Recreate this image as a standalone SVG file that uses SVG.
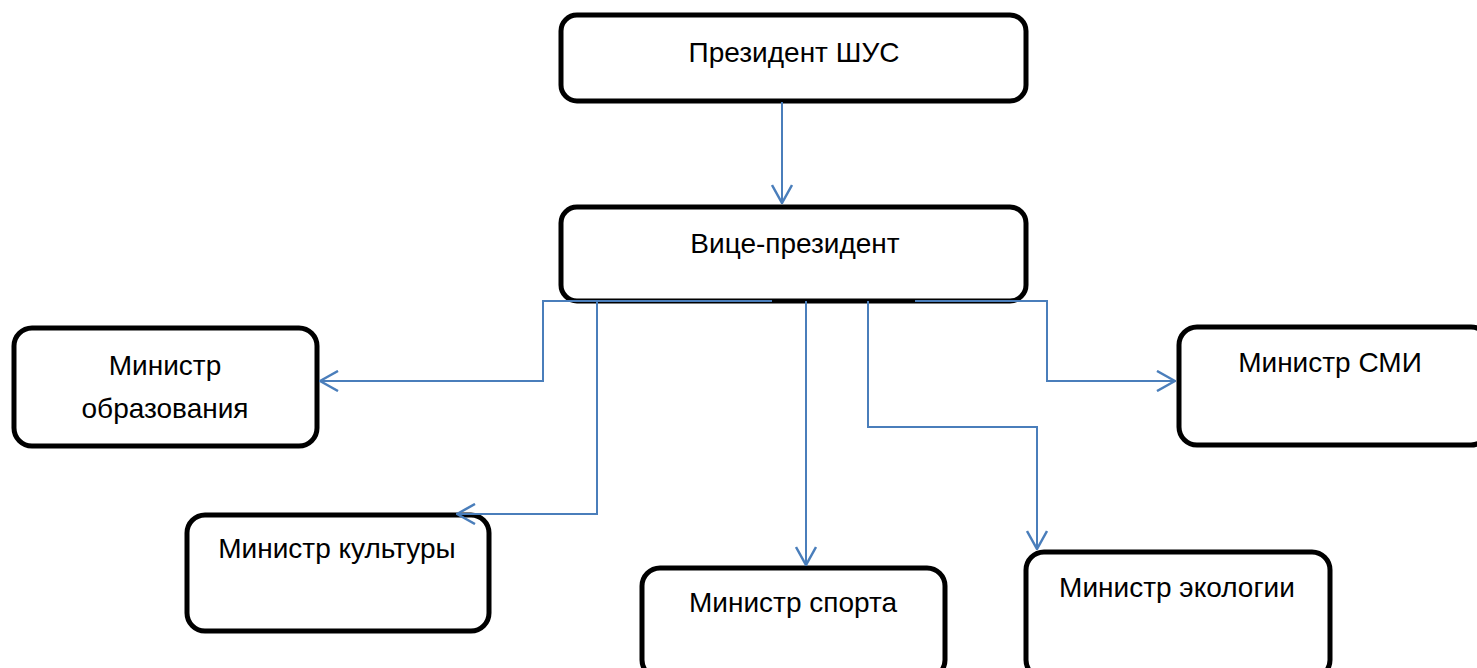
<svg xmlns="http://www.w3.org/2000/svg" width="1477" height="668" viewBox="0 0 1477 668">
<defs>
<style>
.box{fill:#fff;stroke:#000;stroke-width:5}
.lbl{font-family:"Liberation Sans",Arial,sans-serif;font-size:28px;fill:#000;text-anchor:middle}
.con{fill:none;stroke:#4a7ebb;stroke-width:2}
</style>
<marker id="ah" viewBox="0 0 20 22" refX="19" refY="11" markerWidth="20" markerHeight="22" markerUnits="userSpaceOnUse" orient="auto">
<path d="M1,1 L19,11 L1,21" fill="none" stroke="#4a7ebb" stroke-width="2.5"/>
</marker>
</defs>
<rect width="1477" height="668" fill="#fff"/>
<g id="president"><rect class="box" x="561" y="15" width="465" height="86" rx="16"/><text class="lbl" x="794" y="62">Президент ШУС</text></g>
<g id="vice"><rect class="box" x="561" y="207" width="465" height="94" rx="16"/><text class="lbl" x="795" y="253">Вице-президент</text></g>
<g id="education"><rect class="box" x="14" y="328" width="303" height="118" rx="18"/><text class="lbl" x="165" y="375">Министр</text><text class="lbl" x="165" y="418">образования</text></g>
<g id="culture"><rect class="box" x="187" y="515" width="302" height="116" rx="18"/><text class="lbl" x="337" y="558">Министр культуры</text></g>
<g id="sport"><rect class="box" x="642" y="568" width="303" height="110" rx="18"/><text class="lbl" x="793" y="612">Министр спорта</text></g>
<g id="ecology"><rect class="box" x="1026" y="552" width="304" height="126" rx="18"/><text class="lbl" x="1177" y="597">Министр экологии</text></g>
<g id="smi"><rect class="box" x="1179" y="327" width="310" height="118" rx="18"/><text class="lbl" x="1330" y="372">Министр СМИ</text></g>
<g id="connectors">
<path class="con" d="M782,102 V203" marker-end="url(#ah)"/>
<path class="con" d="M772,301 H543 V381 H320" marker-end="url(#ah)"/>
<path class="con" d="M597,301 V514 H457" marker-end="url(#ah)"/>
<path class="con" d="M806,301 V565" marker-end="url(#ah)"/>
<path class="con" d="M868,301 V427 H1037 V549" marker-end="url(#ah)"/>
<path class="con" d="M915,301 H1047 V381 H1175" marker-end="url(#ah)"/>
</g>
</svg>
